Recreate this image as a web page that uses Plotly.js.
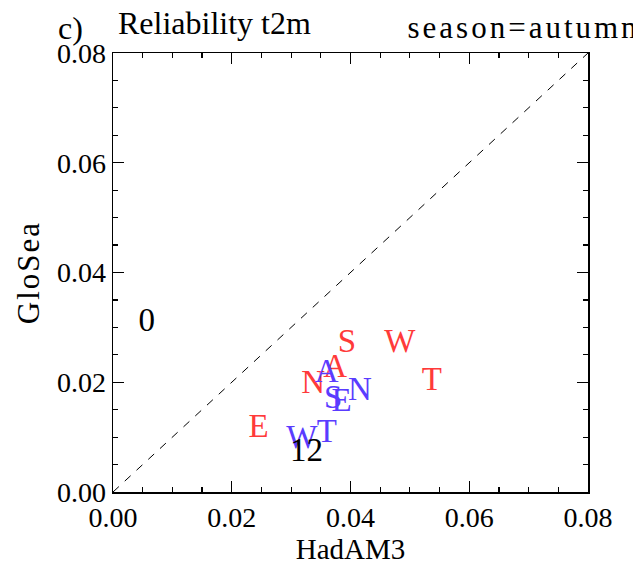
<!DOCTYPE html>
<html>
<head>
<meta charset="utf-8">
<script src="https://cdn.plot.ly/plotly-3.0.1.min.js"></script>
<style>html,body{margin:0;padding:0;background:#fff;}#chart{width:633px;height:575px;}</style>
</head>
<body>
<div id="chart"></div>
<script>
// Red series
const redLabels = ["S", "W", "T", "A", "N", "E"];
const redX = [0.0394, 0.0483, 0.0537, 0.0374, 0.0337, 0.0245];
const redY = [0.0271, 0.0271, 0.0201, 0.0225, 0.0195, 0.0116];
// Blue series
const blueLabels = ["A", "S", "E", "N", "T", "W"];
const blueX = [0.0360, 0.0371, 0.0385, 0.0416, 0.0360, 0.0318];
const blueY = [0.0216, 0.0168, 0.0162, 0.0183, 0.0107, 0.0095];
// Black labels
const blackLabels = ["0", "12"];
const blackX = [0.0057, 0.0326];
const blackY = [0.0308, 0.0071];
// Diagonal (1:1 line) and ticks
const diagonal = [0, 0.08];
const tickVals = [0, 0.02, 0.04, 0.06, 0.08];
const tickText = ["0.00", "0.02", "0.04", "0.06", "0.08"];

const serif = "'Liberation Serif', 'Times New Roman', serif";
const markFont = 33;

const traces = [
  {x: diagonal, y: diagonal, mode: "lines", line: {color: "#000", width: 1, dash: "8px,8px"}, hoverinfo: "skip"},
  {x: redX, y: redY, text: redLabels, mode: "text", textposition: "middle center",
   textfont: {family: serif, size: markFont, color: "#ff3a3a"}},
  {x: blueX, y: blueY, text: blueLabels, mode: "text", textposition: "middle center",
   textfont: {family: serif, size: markFont, color: "#5a3cff"}},
  {x: blackX, y: blackY, text: blackLabels, mode: "text", textposition: "middle center",
   textfont: {family: serif, size: markFont, color: "#000"}}
];

const axisCommon = {
  range: [0, 0.08], tickvals: tickVals, ticktext: tickText,
  ticks: "inside", ticklen: 11, tickwidth: 1.2, tickcolor: "#000",
  showline: true, linecolor: "#000", linewidth: 1.5, mirror: "ticks",
  showgrid: false, zeroline: false,
  tickfont: {family: serif, size: 28, color: "#000"},
  minor: {dtick: 0.005, tick0: 0, ticks: "inside", ticklen: 5, tickwidth: 1.2, tickcolor: "#000", showgrid: false}
};

const layout = {
  width: 633, height: 575,
  margin: {l: 113, r: 45, t: 53, b: 83},
  paper_bgcolor: "#fff", plot_bgcolor: "#fff",
  showlegend: false,
  xaxis: Object.assign({}, axisCommon, {
    title: {text: "HadAM3", font: {family: serif, size: 29, color: "#000"}, standoff: 6}
  }),
  yaxis: Object.assign({}, axisCommon, {
    title: {text: "GloSea", font: {family: serif, size: 31, color: "#000"}, standoff: 8}
  }),
  annotations: [
    {text: "c)", xref: "paper", yref: "paper", x: -0.12, y: 1.058, xanchor: "left", yanchor: "middle",
     showarrow: false, font: {family: serif, size: 32, color: "#000"}},
    {text: "Reliability t2m", xref: "paper", yref: "paper", x: 0.006, y: 1.068, xanchor: "left", yanchor: "middle",
     showarrow: false, font: {family: serif, size: 32, color: "#000"}},
    {text: "season=autumn", xref: "paper", yref: "paper", x: 0.656, y: 1.058, xanchor: "left", yanchor: "middle",
     showarrow: false, font: {family: serif, size: 31, color: "#000"}}
  ]
};

Plotly.newPlot("chart", traces, layout, {staticPlot: true, displayModeBar: false}).then(function () {
  const anns = document.querySelectorAll(".annotation-text");
  anns.forEach(function (el) {
    if (el.textContent.indexOf("season") === 0) el.style.letterSpacing = "3px";
  });
  const yt = document.querySelector(".ytitle");
  if (yt) yt.style.letterSpacing = "2px";
});
</script>
</body>
</html>
